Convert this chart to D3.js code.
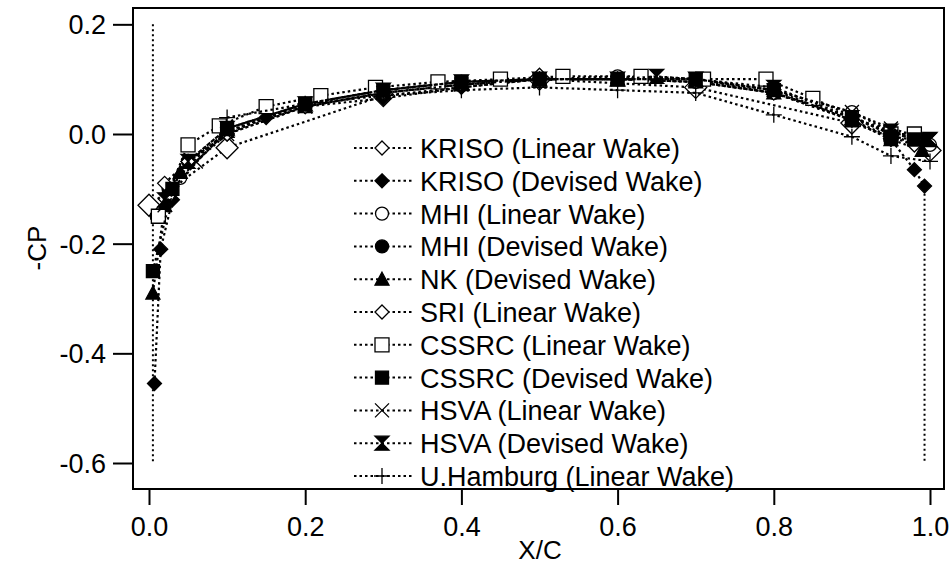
<!DOCTYPE html>
<html><head><meta charset="utf-8">
<script src="https://cdn.jsdelivr.net/npm/d3@7"></script>
<style>body{margin:0;background:#fff}text{font-family:"Liberation Sans",Arial,sans-serif}</style>
</head><body><svg id="c" width="952" height="564"></svg>
<script>
// chord position and -CP values per institute
var labels = ["KRISO (Linear Wake)", "KRISO (Devised Wake)", "MHI (Linear Wake)", "MHI (Devised Wake)",
  "NK (Devised Wake)", "SRI (Linear Wake)", "CSSRC (Linear Wake)", "CSSRC (Devised Wake)",
  "HSVA (Linear Wake)", "HSVA (Devised Wake)", "U.Hamburg (Linear Wake)"];
var markers = ["diamondOpen", "diamondFilled", "circleOpen", "circleFilled", "triangle", "diamondSmall",
  "squareOpen", "squareFilled", "cross", "bowtie", "plus"];
var xKriso = [0.0, 0.1, 0.3, 0.5, 0.7, 0.9, 1.0];
var yKriso = [-0.13, -0.025, 0.07, 0.1, 0.085, 0.02, -0.03];
var xKrisoD = [0.007, 0.015, 0.03, 0.05, 0.1, 0.15, 0.2, 0.3, 0.4, 0.5, 0.6, 0.7, 0.8, 0.9, 0.95, 0.98, 0.993];
var yKrisoD = [-0.455, -0.21, -0.12, -0.05, 0.0, 0.03, 0.05, 0.065, 0.085, 0.1, 0.1, 0.1, 0.075, 0.025, -0.01, -0.065, -0.095];
var xMhi = [0.01, 0.025, 0.04, 0.1, 0.2, 0.3, 0.4, 0.5, 0.6, 0.7, 0.8, 0.9, 0.95, 1.0];
var yMhi = [-0.15, -0.11, -0.08, 0.005, 0.055, 0.08, 0.095, 0.1, 0.105, 0.1, 0.08, 0.04, 0.005, -0.02];
var xMhiD = [0.01, 0.025, 0.05, 0.1, 0.2, 0.3, 0.4, 0.5, 0.6, 0.7, 0.8, 0.9, 0.95, 0.99];
var yMhiD = [-0.15, -0.1, -0.05, 0.01, 0.055, 0.08, 0.095, 0.1, 0.1, 0.095, 0.075, 0.03, 0.0, -0.01];
var xNk = [0.005, 0.02, 0.04, 0.1, 0.2, 0.3, 0.4, 0.5, 0.6, 0.7, 0.8, 0.9, 0.95, 0.99];
var yNk = [-0.29, -0.13, -0.07, 0.005, 0.05, 0.075, 0.09, 0.1, 0.1, 0.095, 0.075, 0.025, -0.01, -0.03];
var xSri = [0.02, 0.05, 0.1, 0.2, 0.3, 0.4, 0.5, 0.6, 0.7, 0.8, 0.9, 0.95, 0.98];
var ySri = [-0.09, -0.05, 0.0, 0.05, 0.075, 0.09, 0.1, 0.1, 0.095, 0.075, 0.03, 0.0, -0.02];
var xCssrc = [0.012, 0.05, 0.09, 0.15, 0.22, 0.29, 0.37, 0.45, 0.53, 0.63, 0.71, 0.79, 0.85, 0.95, 0.98];
var yCssrc = [-0.15, -0.02, 0.015, 0.05, 0.07, 0.085, 0.095, 0.1, 0.105, 0.105, 0.1, 0.1, 0.065, 0.0, 0.0];
var xCssrcD = [0.005, 0.03, 0.1, 0.2, 0.3, 0.4, 0.5, 0.6, 0.7, 0.8, 0.9, 0.95, 0.98];
var yCssrcD = [-0.25, -0.1, 0.01, 0.055, 0.08, 0.095, 0.1, 0.1, 0.1, 0.08, 0.025, -0.005, -0.01];
var xHsva = [0.02, 0.06, 0.1, 0.2, 0.3, 0.4, 0.5, 0.6, 0.7, 0.8, 0.9, 0.95, 1.0];
var yHsva = [-0.13, -0.05, 0.0, 0.05, 0.075, 0.09, 0.1, 0.1, 0.1, 0.08, 0.04, 0.01, -0.01];
var xHsvaD = [0.02, 0.05, 0.1, 0.2, 0.3, 0.4, 0.5, 0.6, 0.65, 0.7, 0.8, 0.9, 0.95, 1.0];
var yHsvaD = [-0.12, -0.05, 0.01, 0.055, 0.08, 0.095, 0.1, 0.1, 0.105, 0.1, 0.085, 0.03, 0.005, -0.01];
var xHam = [0.1, 0.2, 0.3, 0.4, 0.5, 0.6, 0.7, 0.8, 0.9, 0.95, 1.0];
var yHam = [0.03, 0.055, 0.07, 0.08, 0.085, 0.08, 0.075, 0.035, -0.005, -0.04, -0.05];
var xEdgeL = [0.005, 0.005], yEdgeL = [0.2, -0.6];
var xEdgeR = [0.993, 0.993], yEdgeR = [-0.1, -0.6];
var xTicks = [0.0, 0.2, 0.4, 0.6, 0.8, 1.0];
var yTicks = [0.2, 0.0, -0.2, -0.4, -0.6];

var xs = [xKriso, xKrisoD, xMhi, xMhiD, xNk, xSri, xCssrc, xCssrcD, xHsva, xHsvaD, xHam];
var ys = [yKriso, yKrisoD, yMhi, yMhiD, yNk, ySri, yCssrc, yCssrcD, yHsva, yHsvaD, yHam];

var svg = d3.select("#c");
var L = 133, R = 944, T = 8, B = 489;
var x = d3.scaleLinear().domain([0, 1]).range([149, 930]);
var y = d3.scaleLinear().domain([0, -0.6]).range([134, 463]);

svg.append("rect").attr("x", L).attr("y", T).attr("width", R - L).attr("height", B - T)
  .attr("fill", "none").attr("stroke", "#000").attr("stroke-width", 2);

var gx = svg.append("g").attr("transform", `translate(0,${B})`)
  .call(d3.axisBottom(x).tickValues(xTicks).tickFormat(d3.format(".1f")).tickSize(16).tickSizeOuter(0));
var gy = svg.append("g").attr("transform", `translate(${L},0)`)
  .call(d3.axisLeft(y).tickValues(yTicks).tickFormat(d3.format(".1f")).tickSize(20).tickSizeOuter(0));
[gx, gy].forEach(g => {
  g.select(".domain").remove();
  g.selectAll("line").attr("stroke-width", 2);
  g.selectAll("text").style("font-size", "27px").attr("fill", "#000");
});
gx.selectAll("text").attr("dy", "1.05em");
gy.selectAll("text").attr("dx", "-0.15em").attr("dy", "0.35em");
gy.selectAll("text").text(d => d3.format(".1f")(d).replace("−", "-"));

svg.append("text").attr("x", 540).attr("y", 559).attr("text-anchor", "middle").style("font-size", "26px").text("X/C");
svg.append("text").attr("transform", "translate(46,248) rotate(-90)").attr("text-anchor", "middle").style("font-size", "26px").text("-CP");

function marker(g, type, cx, cy) {
  var s = 7, path, fill = "#fff";
  if (type === "diamondOpen") { s = 11; path = `M0,${-s}L${s},0L0,${s}L${-s},0Z`; }
  if (type === "diamondFilled") { path = `M0,${-s}L${s},0L0,${s}L${-s},0Z`; fill = "#000"; }
  if (type === "diamondSmall") { s = 7; path = `M0,${-s}L${s},0L0,${s}L${-s},0Z`; }
  if (type === "circleOpen" || type === "circleFilled") {
    g.append("circle").attr("cx", cx).attr("cy", cy).attr("r", 6.5)
      .attr("fill", type === "circleFilled" ? "#000" : "#fff").attr("stroke", "#000").attr("stroke-width", 1.3);
    return;
  }
  if (type === "triangle") { path = "M0,-7L7,6L-7,6Z"; fill = "#000"; }
  if (type === "squareOpen") path = "M-7,-7H7V7H-7Z";
  if (type === "squareFilled") { path = "M-6.5,-6.5H6.5V6.5H-6.5Z"; fill = "#000"; }
  if (type === "bowtie") { path = "M-7,-7H7L-7,7H7Z"; fill = "#000"; }
  if (type === "cross") { path = "M-7,-7L7,7M-7,7L7,-7"; fill = "none"; }
  if (type === "plus") { path = "M-8,0H8M0,-8V8"; fill = "none"; }
  g.append("path").attr("d", path).attr("transform", `translate(${cx},${cy})`)
    .attr("fill", fill).attr("stroke", "#000").attr("stroke-width", 1.3);
}

var line = d3.line().x(d => x(d[0])).y(d => y(d[1]));
var plot = svg.append("g");
[[xEdgeL, yEdgeL], [xEdgeR, yEdgeR]].forEach(e => {
  plot.append("path").attr("d", line(d3.zip(e[0], e[1]))).attr("fill", "none")
    .attr("stroke", "#000").attr("stroke-width", 2).attr("stroke-dasharray", "2,3");
});
xs.forEach((xv, i) => {
  var pts = d3.zip(xv, ys[i]);
  plot.append("path").attr("d", line(pts)).attr("fill", "none")
    .attr("stroke", "#000").attr("stroke-width", 2.2).attr("stroke-dasharray", "2.5,3");
  pts.forEach(p => marker(plot, markers[i], x(p[0]), y(p[1])));
});

var leg = svg.append("g");
labels.forEach((t, i) => {
  var ly = 148 + i * 32.8;
  leg.append("line").attr("x1", 354).attr("x2", 412).attr("y1", ly).attr("y2", ly)
    .attr("stroke", "#000").attr("stroke-width", 2).attr("stroke-dasharray", "2.5,3");
  marker(leg, markers[i] === "diamondOpen" ? "diamondSmall" : markers[i], 382, ly);
  leg.append("text").attr("x", 420).attr("y", ly + 10).style("font-size", "27px").text(t);
});
</script></body></html>
